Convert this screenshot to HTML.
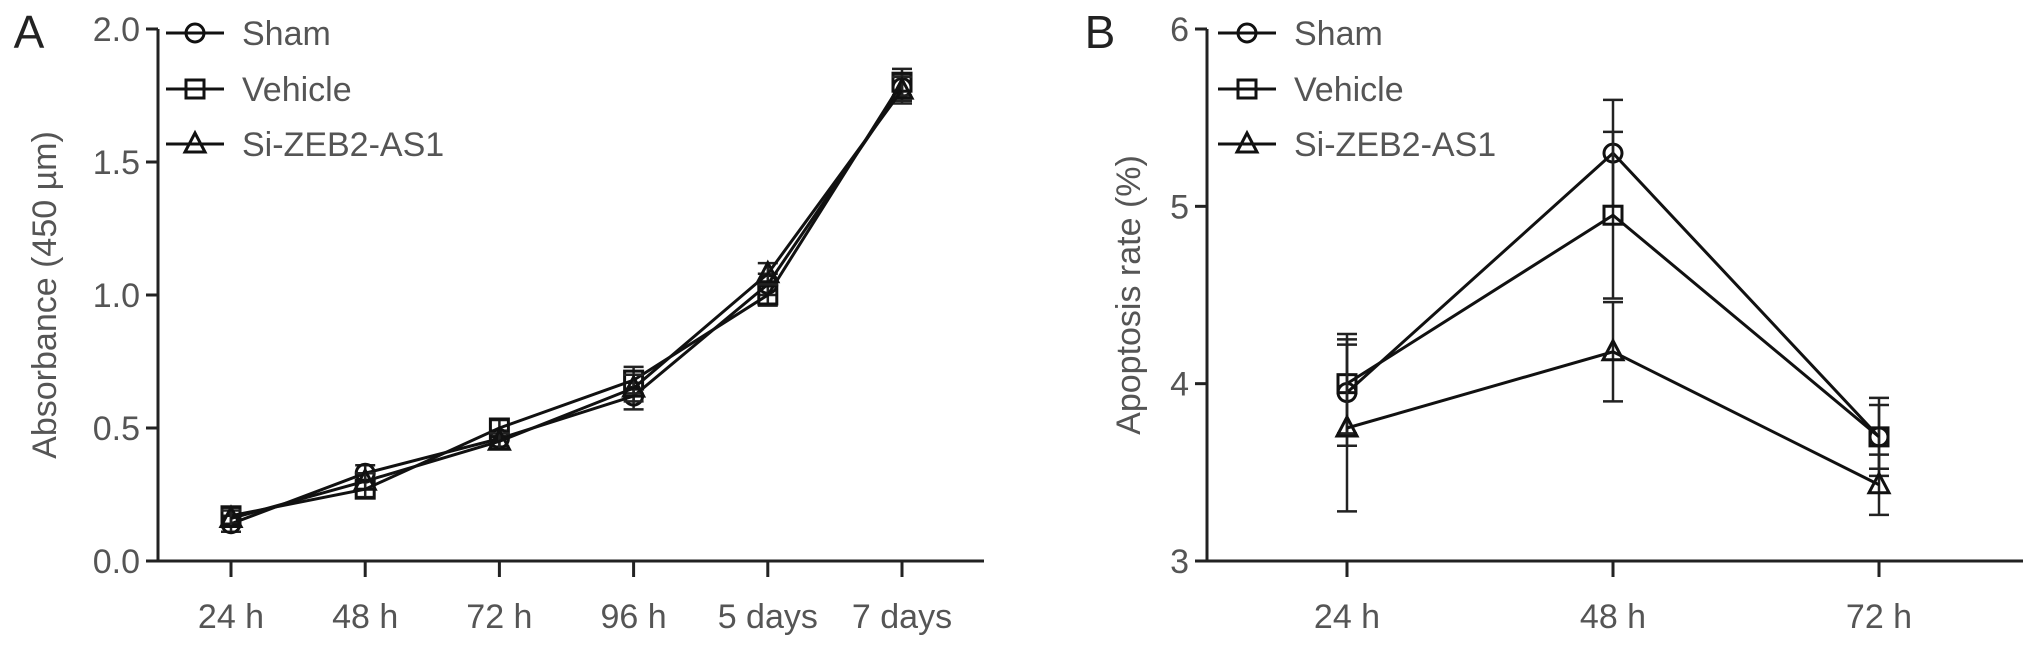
<!DOCTYPE html>
<html><head><meta charset="utf-8"><style>
html,body{margin:0;padding:0;background:#fff;}
svg{display:block;font-family:"Liberation Sans",Arial,sans-serif;}
</style></head><body>
<svg id="chart" width="2031" height="647" viewBox="0 0 2031 647" xmlns="http://www.w3.org/2000/svg"></svg>
<script>
const catsA = ["24 h","48 h","72 h","96 h","5 days","7 days"];
const shamA = [0.14,0.33,0.46,0.62,1.04,1.78];
const vehA  = [0.17,0.27,0.50,0.68,1.00,1.80];
const siA   = [0.16,0.30,0.45,0.65,1.08,1.77];
const errA  = [0.03,0.03,0.03,0.05,0.04,0.05];
const ticksA = [0,0.5,1.0,1.5,2.0];
const tickLabelsA = ["0.0","0.5","1.0","1.5","2.0"];
const catsB = ["24 h","48 h","72 h"];
const shamB = [3.95,5.30,3.70];
const vehB  = [4.00,4.95,3.70];
const siB   = [3.75,4.18,3.43];
const shamErrB = [0.30,0.30,0.22];
const vehErrB  = [0.28,0.47,0.18];
const siErrB   = [0.47,0.28,0.17];
const ticksB = [3,4,5,6];
const tickLabelsB = ["3","4","5","6"];
const seriesNames = ["Sham","Vehicle","Si-ZEB2-AS1"];

const NS="http://www.w3.org/2000/svg";
const svg=document.getElementById('chart');
function mk(tag,attrs,parent){const e=document.createElementNS(NS,tag);for(const k in attrs)e.setAttribute(k,attrs[k]);(parent||svg).appendChild(e);return e;}
function marker(g,shape,x,y){
  let e;
  if(shape==='circle') e=mk('circle',{cx:x,cy:y,r:9,fill:'none',stroke:'#111','stroke-width':3},g);
  else if(shape==='square') e=mk('rect',{x:x-9,y:y-9,width:18,height:18,fill:'none',stroke:'#111','stroke-width':3},g);
  else e=mk('polygon',{points:`${x},${y-11} ${x-10},${y+8} ${x+10},${y+8}`,fill:'none',stroke:'#111','stroke-width':3},g);
  return e;
}
const shapes=['circle','square','triangle'];

function panel(cfg){
  const {x0,x1,yTop,yBot,vmin,vmax,cats,catX,series,errs,ticks,tickLabels,ylabel,ylx,letter,letterX,legX,name}=cfg;
  const g=mk('g',{});
  
  
  const ys=v=>yBot-(v-vmin)/(vmax-vmin)*(yBot-yTop);
  const xs=i=>catX[0]+i*(catX[1]-catX[0])/(cats.length-1);
  const ax=mk('path',{d:`M${x0},${yTop} V${yBot} H${x1}`,fill:'none',stroke:'#222','stroke-width':3},g);
  
  ticks.forEach((t,i)=>{
    const y=ys(t);
    const tk=mk('line',{x1:x0-12,x2:x0,y1:y,y2:y,stroke:'#222','stroke-width':3},g);
    
    const tl=mk('text',{x:x0-18,y:y+12,'text-anchor':'end','font-size':34,fill:'#555'},g);
    tl.textContent=tickLabels[i];
    
  });
  cats.forEach((c,i)=>{
    const x=xs(i);
    const tk=mk('line',{x1:x,x2:x,y1:yBot,y2:yBot+16,stroke:'#222','stroke-width':3},g);
    
    const tl=mk('text',{x:x,y:yBot+67,'text-anchor':'middle','font-size':34,fill:'#555'},g);
    tl.textContent=c;
    
  });
  const yl=mk('text',{x:0,y:0,transform:`translate(${ylx},${(yTop+yBot)/2}) rotate(-90)`,'text-anchor':'middle','font-size':34,fill:'#555'},g);
  yl.textContent=ylabel;
  
  const lt=mk('text',{x:letterX,y:48,'text-anchor':'middle','font-size':46,fill:'#222'},g);
  lt.textContent=letter;
  
  series.forEach((vals,s)=>{
    const sg=mk('g',{},g);
    
    
    const e=errs[s];
    vals.forEach((v,i)=>{
      const x=xs(i);
      const eb=mk('path',{d:`M${x},${ys(v+e[i])} V${ys(v-e[i])} M${x-10},${ys(v+e[i])} H${x+10} M${x-10},${ys(v-e[i])} H${x+10}`,stroke:'#222','stroke-width':2.5,fill:'none'},sg);
      
    });
    const pl=mk('polyline',{points:vals.map((v,i)=>`${xs(i)},${ys(v)}`).join(' '),fill:'none',stroke:'#111','stroke-width':3},sg);
    
    vals.forEach((v,i)=>{
      const m=marker(sg,shapes[s],xs(i),ys(v));
      
    });
  });
  const legY=[33,89,144];
  seriesNames.forEach((n,s)=>{
    const lg=mk('g',{},g);
    
    mk('line',{x1:legX,x2:legX+58,y1:legY[s],y2:legY[s],stroke:'#111','stroke-width':3},lg);
    marker(lg,shapes[s],legX+29,legY[s]);
    const t=mk('text',{x:legX+76,y:legY[s]+12,'font-size':34,fill:'#555'},lg);
    t.textContent=n;
  });
}
panel({name:'panel-a',x0:158,x1:984,yTop:29,yBot:561,vmin:0,vmax:2,cats:catsA,catX:[231,902],
  series:[shamA,vehA,siA],errs:[errA,errA,errA],ticks:ticksA,tickLabels:tickLabelsA,
  ylabel:'Absorbance (450 µm)',ylx:56,letter:'A',letterX:29,legX:166});
panel({name:'panel-b',x0:1207,x1:2023,yTop:29,yBot:561,vmin:3,vmax:6,cats:catsB,catX:[1347,1879],
  series:[shamB,vehB,siB],errs:[shamErrB,vehErrB,siErrB],ticks:ticksB,tickLabels:tickLabelsB,
  ylabel:'Apoptosis rate (%)',ylx:1140,letter:'B',letterX:1100,legX:1218});
</script>
</body></html>
